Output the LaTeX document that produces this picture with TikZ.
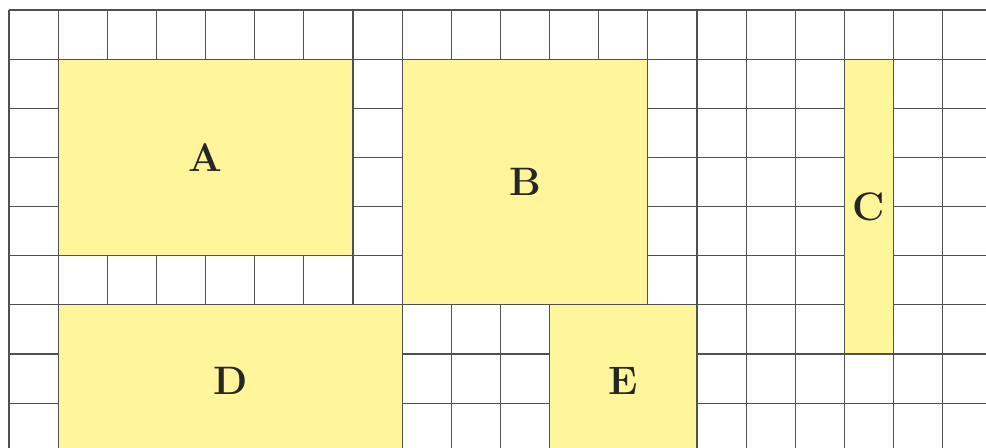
\documentclass[tikz,border=0pt]{standalone}
\definecolor{gridc}{HTML}{505050}
\definecolor{boxfill}{HTML}{FFF59A}
\begin{document}
\begin{tikzpicture}[x=1cm,y=-1cm,
  gridline/.style={draw=gridc,line width=0.65pt},
  region/.style={fill=boxfill,draw=gridc,line width=0.65pt},
  lbl/.style={font=\fontsize{23}{23}\selectfont\bfseries,text=black!85}]
\useasboundingbox (-0.183,-0.2035) rectangle (19.882,8.913);
\clip (-0.183,-0.2035) rectangle (19.882,8.913);
\fill[white] (-0.183,-0.2035) rectangle (19.882,8.913);
\foreach \i in {0,...,20} \draw[gridline] (\i,0) -- (\i,9.5);
\foreach \j in {0,...,9} \draw[gridline] (0,\j) -- (20.5,\j);
\draw[region] (1,1) rectangle (7,5);
\draw[region] (8,1) rectangle (13,6);
\draw[region] (17,1) rectangle (18,7);
\draw[region] (1,6) rectangle (8,9.1);
\draw[region] (11,6) rectangle (14,9.1);
\node[lbl] (A) at (4,3) {A};
\node[lbl] (B) at (10.5,3.5) {B};
\node[lbl] (C) at (17.5,4) {C};
\node[lbl] (D) at (4.5,7.55) {D};
\node[lbl] (E) at (12.5,7.55) {E};
\end{tikzpicture}
\end{document}
